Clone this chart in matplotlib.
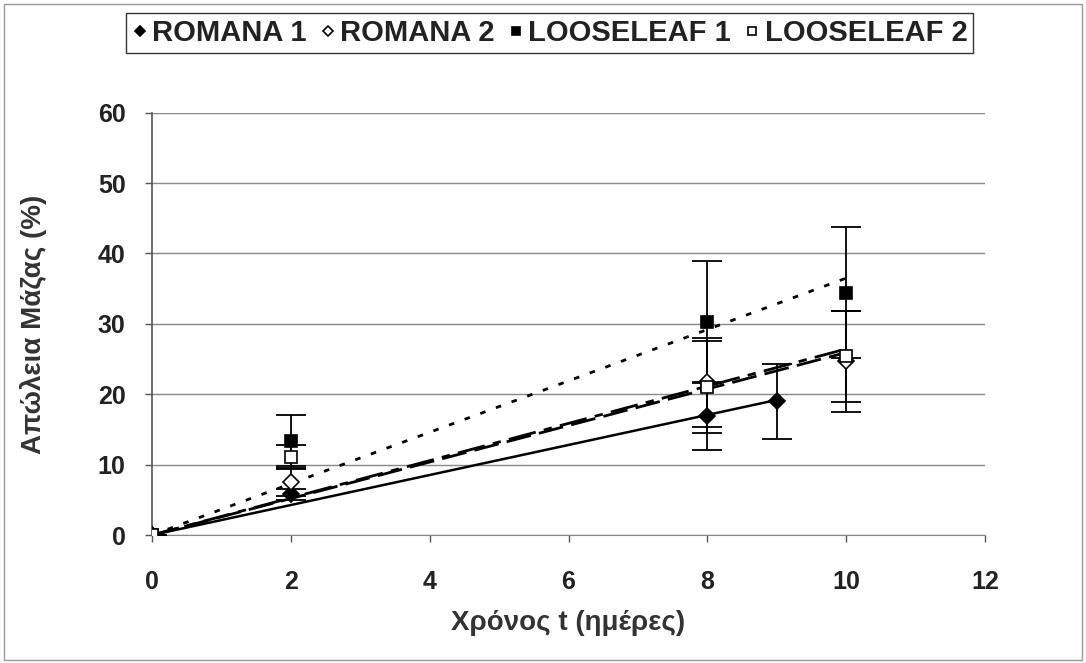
import matplotlib
matplotlib.use("Agg")
import matplotlib.pyplot as plt
from matplotlib.patches import Rectangle
import numpy as np

plt.rcParams['font.family'] = ['Liberation Sans', 'DejaVu Sans']

# Data
t_r1 = [0, 2, 8, 9]
romana1 = [0, 5.8, 16.9, 19.0]
romana1_err = [0, 0.8, 4.8, 5.3]

t_r2 = [0, 2, 8, 10]
romana2 = [0, 7.5, 21.7, 24.7]
romana2_err = [0, 2.0, 6.3, 7.2]

t_l1 = [0, 2, 8, 10]
loose1 = [0, 13.4, 30.3, 34.4]
loose1_err = [0, 3.6, 8.7, 9.3]

t_l2 = [0, 2, 8, 10]
loose2 = [0, 11.1, 21.0, 25.4]
loose2_err = [0, 1.7, 6.5, 6.5]

labels = ['ROMANA 1', 'ROMANA 2', 'LOOSELEAF 1', 'LOOSELEAF 2']
xticks = [0, 2, 4, 6, 8, 10, 12]
yticks = [0, 10, 20, 30, 40, 50, 60]

fig = plt.figure(figsize=(10.86, 6.63), dpi=100)
ax = fig.add_axes([0.14, 0.193, 0.767, 0.637])

series = [
    (t_r1, romana1, romana1_err, 'D', 'black', '-', labels[0]),
    (t_r2, romana2, romana2_err, 'D', 'white', (0, (9, 3)), labels[1]),
    (t_l1, loose1, loose1_err, 's', 'black', (0, (2, 4)), labels[2]),
    (t_l2, loose2, loose2_err, 's', 'white', (0, (10, 3, 3, 3)), labels[3]),
]

handles = []
for x, y, e, m, fc, ls, lab in series:
    x = np.asarray(x, float)
    y = np.asarray(y, float)
    # linear trend through origin
    slope = np.sum(x * y) / np.sum(x * x)
    xl = np.array([0, x.max()])
    ax.plot(xl, slope * xl, color='black', lw=2.0 if ls != '-' else 1.8,
            linestyle=ls, zorder=2)
    ax.errorbar(x, y, yerr=e, fmt='none', ecolor='black', elinewidth=1.3,
                capsize=11, capthick=1.3, zorder=3)
    h, = ax.plot(x, y, linestyle='none', marker=m, markersize=8.5 if m == 's' else 8,
                 markerfacecolor=fc, markeredgecolor='black', markeredgewidth=1.2,
                 label=lab, zorder=4)
    handles.append(h)

ax.set_xlim(0, 12)
ax.set_ylim(0, 60)
ax.set_xticks(xticks)
ax.set_yticks(yticks)
ax.set_xticklabels([str(v) for v in xticks], fontsize=18, fontweight='bold', color='#222222')
ax.set_yticklabels([str(v) for v in yticks], fontsize=18, fontweight='bold', color='#222222')
ax.tick_params(axis='both', direction='out', length=5, width=1, color='#555555')
ax.tick_params(axis='x', pad=20)
ax.tick_params(axis='y', pad=14)
ax.yaxis.grid(True, color='#888888', linewidth=1)
ax.set_axisbelow(True)
for s in ['top', 'right']:
    ax.spines[s].set_visible(False)
ax.spines['left'].set_color('#555555')
ax.spines['bottom'].set_color('#888888')
ax.spines['left'].set_linewidth(1.2)

ax.set_xlabel('Χρόνος t (ημέρες)', fontsize=20, fontweight='bold', color='#333333')
ax.set_ylabel('Απώλεια Μάζας (%)', fontsize=20, fontweight='bold', color='#333333')
ax.xaxis.set_label_coords(0.5, -0.177)
ax.yaxis.set_label_coords(-0.126, 0.5)

leg = fig.legend(handles=handles, labels=labels, loc='center', bbox_to_anchor=(0.506, 0.950),
                 ncol=4, frameon=True, fancybox=False, edgecolor='black', handletextpad=0.15,
                 columnspacing=0.45, handlelength=0.55, borderpad=0.2, borderaxespad=0,
                 markerscale=0.7, prop={'weight': 'bold', 'size': 21})
leg.get_frame().set_linewidth(1.0)
for txt in leg.get_texts():
    txt.set_color('#222222')

fig.patches.append(Rectangle((0.004, 0.004), 0.992, 0.99, transform=fig.transFigure,
                             fill=False, edgecolor='#999999', linewidth=1))

fig.savefig('out.png', dpi=100)
